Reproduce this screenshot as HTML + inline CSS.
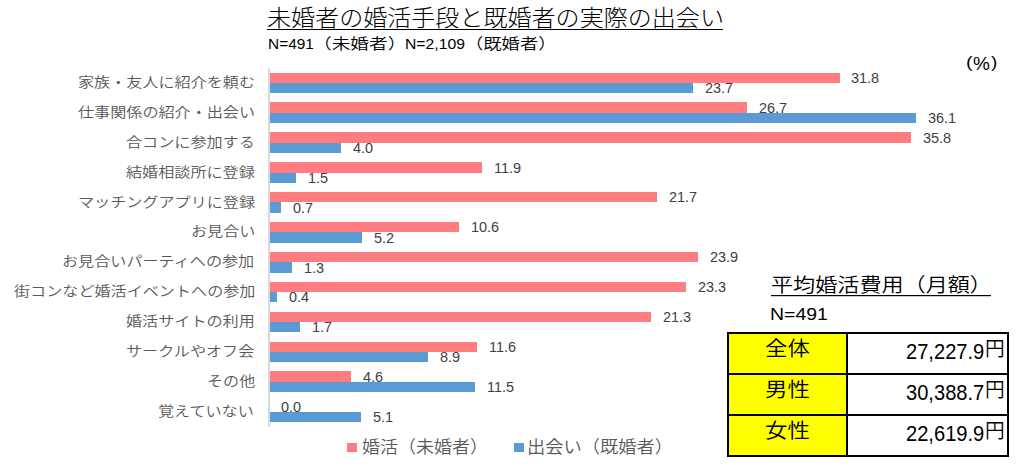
<!DOCTYPE html>
<html lang="ja"><head><meta charset="utf-8"><title>未婚者の婚活手段と既婚者の実際の出会い</title>
<style>
html,body{margin:0;padding:0;background:#fff;}
body{width:1026px;height:469px;position:relative;overflow:hidden;}
.r{position:absolute;}
.t{position:absolute;white-space:nowrap;line-height:1;transform-origin:0 0;}
</style></head><body>
<div class="r" style="left:269.00px;top:73.00px;width:571.00px;height:10.00px;background:#ff7c80"></div>
<div class="r" style="left:269.00px;top:83.00px;width:424.00px;height:10.00px;background:#5b9bd5"></div>
<div class="r" style="left:269.00px;top:102.00px;width:478.00px;height:11.00px;background:#ff7c80"></div>
<div class="r" style="left:269.00px;top:113.00px;width:647.00px;height:9.60px;background:#5b9bd5"></div>
<div class="r" style="left:269.00px;top:132.00px;width:642.00px;height:11.00px;background:#ff7c80"></div>
<div class="r" style="left:269.00px;top:143.00px;width:72.00px;height:9.50px;background:#5b9bd5"></div>
<div class="r" style="left:269.00px;top:162.00px;width:213.00px;height:11.00px;background:#ff7c80"></div>
<div class="r" style="left:269.00px;top:173.00px;width:27.00px;height:9.60px;background:#5b9bd5"></div>
<div class="r" style="left:269.00px;top:192.00px;width:388.00px;height:10.00px;background:#ff7c80"></div>
<div class="r" style="left:269.00px;top:202.00px;width:12.00px;height:10.50px;background:#5b9bd5"></div>
<div class="r" style="left:269.00px;top:222.00px;width:190.00px;height:10.00px;background:#ff7c80"></div>
<div class="r" style="left:269.00px;top:232.00px;width:93.00px;height:10.50px;background:#5b9bd5"></div>
<div class="r" style="left:269.00px;top:252.00px;width:429.00px;height:10.00px;background:#ff7c80"></div>
<div class="r" style="left:269.00px;top:262.00px;width:23.00px;height:10.50px;background:#5b9bd5"></div>
<div class="r" style="left:269.00px;top:282.00px;width:417.00px;height:10.00px;background:#ff7c80"></div>
<div class="r" style="left:269.00px;top:292.00px;width:8.00px;height:10.00px;background:#5b9bd5"></div>
<div class="r" style="left:269.00px;top:312.00px;width:382.00px;height:10.00px;background:#ff7c80"></div>
<div class="r" style="left:269.00px;top:322.00px;width:31.00px;height:10.00px;background:#5b9bd5"></div>
<div class="r" style="left:269.00px;top:342.00px;width:208.00px;height:10.00px;background:#ff7c80"></div>
<div class="r" style="left:269.00px;top:352.00px;width:159.00px;height:10.00px;background:#5b9bd5"></div>
<div class="r" style="left:269.00px;top:371.00px;width:82.00px;height:11.00px;background:#ff7c80"></div>
<div class="r" style="left:269.00px;top:382.00px;width:206.00px;height:10.00px;background:#5b9bd5"></div>
<div class="r" style="left:269.00px;top:412.00px;width:92.00px;height:10.00px;background:#5b9bd5"></div>
<div class="r" style="left:268px;top:68px;width:2px;height:358.5px;background:#d9d9d9"></div>
<div class="r" style="left:267px;top:28.5px;width:456px;height:1.4px;background:#000"></div>
<div class="r" style="left:771px;top:295px;width:220px;height:1px;background:#000"></div>
<div class="r" style="left:771px;top:296px;width:220px;height:1px;background:rgba(0,0,0,0.2)"></div>
<div class="r" style="left:347px;top:443px;width:10px;height:9px;background:#ff7c80"></div>
<div class="r" style="left:514px;top:443px;width:10px;height:9px;background:#5b9bd5"></div>
<div class="r" style="left:729px;top:334px;width:116.5px;height:121px;background:#ffff00"></div>
<div class="r" style="left:727.0px;top:332.0px;width:282.0px;height:2.0px;background:#000"></div>
<div class="r" style="left:727.0px;top:373.0px;width:282.0px;height:2.0px;background:#000"></div>
<div class="r" style="left:727.0px;top:414.0px;width:282.0px;height:2.0px;background:#000"></div>
<div class="r" style="left:727.0px;top:454.5px;width:282.0px;height:2.0px;background:#000"></div>
<div class="r" style="left:727.0px;top:332.0px;width:2.0px;height:124.5px;background:#000"></div>
<div class="r" style="left:845.5px;top:332.0px;width:2.0px;height:124.5px;background:#000"></div>
<div class="r" style="left:1007.0px;top:332.0px;width:2.0px;height:124.5px;background:#000"></div>
<div class="t" id="title" style="left:267.05px;top:8.00px;font-family:'Liberation Sans', 'Noto Sans CJK JP', sans-serif;font-size:22.56px;color:#000;font-weight:300;transform:scale(1.0667,1.0000);">未婚者の婚活手段と既婚者の実際の出会い</div>
<div class="t" id="sub1" style="left:267.67px;top:36.00px;font-family:'Liberation Sans', sans-serif;font-size:15.45px;color:#000;transform:scale(0.9990,1.0000);">N=491</div>
<div class="t" id="sub2" style="left:313.48px;top:36.00px;font-family:'Liberation Sans', 'Noto Sans CJK JP', sans-serif;font-size:15.30px;color:#000;font-weight:350;transform:scale(1.2209,1.0000);">（未婚者）</div>
<div class="t" id="sub3" style="left:405.14px;top:36.00px;font-family:'Liberation Sans', sans-serif;font-size:15.45px;color:#000;transform:scale(1.0183,1.0000);">N=2,109</div>
<div class="t" id="sub4" style="left:464.73px;top:36.00px;font-family:'Liberation Sans', 'Noto Sans CJK JP', sans-serif;font-size:15.30px;color:#000;font-weight:350;transform:scale(1.1963,1.0000);">（既婚者）</div>
<div class="t" id="pct1" style="left:965.57px;top:54.00px;font-family:'Liberation Sans', sans-serif;font-size:17.28px;color:#000;transform:scale(1.1475,1.0000);">(</div>
<div class="t" id="pct2" style="left:973.43px;top:54.00px;font-family:'Liberation Sans', sans-serif;font-size:19.08px;color:#000;transform:scale(0.9944,1.0000);">%</div>
<div class="t" id="pct3" style="left:991.36px;top:54.00px;font-family:'Liberation Sans', sans-serif;font-size:16.02px;color:#000;transform:scale(1.1905,1.0000);">)</div>
<div class="t" id="lab0" style="left:77.92px;top:75.00px;font-family:'Liberation Sans', 'Noto Sans CJK JP', sans-serif;font-size:14.08px;color:#595959;font-weight:350;transform:scale(1.1433,1.0000);">家族・友人に紹介を頼む</div>
<div class="t" id="lab1" style="left:77.92px;top:105.00px;font-family:'Liberation Sans', 'Noto Sans CJK JP', sans-serif;font-size:14.08px;color:#595959;font-weight:350;transform:scale(1.1433,1.0000);">仕事関係の紹介・出会い</div>
<div class="t" id="lab2" style="left:126.22px;top:135.00px;font-family:'Liberation Sans', 'Noto Sans CJK JP', sans-serif;font-size:14.08px;color:#595959;font-weight:350;transform:scale(1.1433,1.0000);">合コンに参加する</div>
<div class="t" id="lab3" style="left:126.22px;top:165.00px;font-family:'Liberation Sans', 'Noto Sans CJK JP', sans-serif;font-size:14.08px;color:#595959;font-weight:350;transform:scale(1.1433,1.0000);">結婚相談所に登録</div>
<div class="t" id="lab4" style="left:77.92px;top:195.00px;font-family:'Liberation Sans', 'Noto Sans CJK JP', sans-serif;font-size:14.08px;color:#595959;font-weight:350;transform:scale(1.1433,1.0000);">マッチングアプリに登録</div>
<div class="t" id="lab5" style="left:190.61px;top:224.00px;font-family:'Liberation Sans', 'Noto Sans CJK JP', sans-serif;font-size:14.08px;color:#595959;font-weight:350;transform:scale(1.1433,1.0000);">お見合い</div>
<div class="t" id="lab6" style="left:61.83px;top:254.00px;font-family:'Liberation Sans', 'Noto Sans CJK JP', sans-serif;font-size:14.08px;color:#595959;font-weight:350;transform:scale(1.1433,1.0000);">お見合いパーティへの参加</div>
<div class="t" id="lab7" style="left:13.53px;top:284.00px;font-family:'Liberation Sans', 'Noto Sans CJK JP', sans-serif;font-size:14.08px;color:#595959;font-weight:350;transform:scale(1.1433,1.0000);">街コンなど婚活イベントへの参加</div>
<div class="t" id="lab8" style="left:126.22px;top:314.00px;font-family:'Liberation Sans', 'Noto Sans CJK JP', sans-serif;font-size:14.08px;color:#595959;font-weight:350;transform:scale(1.1433,1.0000);">婚活サイトの利用</div>
<div class="t" id="lab9" style="left:126.22px;top:344.00px;font-family:'Liberation Sans', 'Noto Sans CJK JP', sans-serif;font-size:14.08px;color:#595959;font-weight:350;transform:scale(1.1433,1.0000);">サークルやオフ会</div>
<div class="t" id="lab10" style="left:206.71px;top:374.00px;font-family:'Liberation Sans', 'Noto Sans CJK JP', sans-serif;font-size:14.08px;color:#595959;font-weight:350;transform:scale(1.1433,1.0000);">その他</div>
<div class="t" id="lab11" style="left:158.41px;top:404.00px;font-family:'Liberation Sans', 'Noto Sans CJK JP', sans-serif;font-size:14.08px;color:#595959;font-weight:350;transform:scale(1.1433,1.0000);">覚えていない</div>
<div class="t" id="v0_0" style="left:851.33px;top:71.00px;font-family:'Liberation Sans', sans-serif;font-size:14.42px;color:#404040;transform:scale(1.0036,1.0000);">31.8</div>
<div class="t" id="v1_0" style="left:705.26px;top:81.00px;font-family:'Liberation Sans', sans-serif;font-size:14.42px;color:#404040;transform:scale(1.0036,1.0000);">23.7</div>
<div class="t" id="v0_1" style="left:759.36px;top:101.00px;font-family:'Liberation Sans', sans-serif;font-size:14.42px;color:#404040;transform:scale(1.0036,1.0000);">26.7</div>
<div class="t" id="v1_1" style="left:928.13px;top:111.00px;font-family:'Liberation Sans', sans-serif;font-size:14.42px;color:#404040;transform:scale(1.0036,1.0000);">36.1</div>
<div class="t" id="v0_2" style="left:923.13px;top:131.00px;font-family:'Liberation Sans', sans-serif;font-size:14.42px;color:#404040;transform:scale(1.0036,1.0000);">35.8</div>
<div class="t" id="v1_2" style="left:353.44px;top:141.00px;font-family:'Liberation Sans', sans-serif;font-size:14.42px;color:#404040;transform:scale(1.0036,1.0000);">4.0</div>
<div class="t" id="v0_3" style="left:493.50px;top:161.00px;font-family:'Liberation Sans', sans-serif;font-size:14.42px;color:#404040;transform:scale(1.0036,1.0000);">11.9</div>
<div class="t" id="v1_3" style="left:308.10px;top:171.00px;font-family:'Liberation Sans', sans-serif;font-size:14.42px;color:#404040;transform:scale(1.0036,1.0000);">1.5</div>
<div class="t" id="v0_4" style="left:669.46px;top:190.00px;font-family:'Liberation Sans', sans-serif;font-size:14.42px;color:#404040;transform:scale(1.0036,1.0000);">21.7</div>
<div class="t" id="v1_4" style="left:293.29px;top:201.00px;font-family:'Liberation Sans', sans-serif;font-size:14.42px;color:#404040;transform:scale(1.0036,1.0000);">0.7</div>
<div class="t" id="v0_5" style="left:470.70px;top:220.00px;font-family:'Liberation Sans', sans-serif;font-size:14.42px;color:#404040;transform:scale(1.0036,1.0000);">10.6</div>
<div class="t" id="v1_5" style="left:373.97px;top:231.00px;font-family:'Liberation Sans', sans-serif;font-size:14.42px;color:#404040;transform:scale(1.0036,1.0000);">5.2</div>
<div class="t" id="v0_6" style="left:710.16px;top:250.00px;font-family:'Liberation Sans', sans-serif;font-size:14.42px;color:#404040;transform:scale(1.0036,1.0000);">23.9</div>
<div class="t" id="v1_6" style="left:303.50px;top:261.00px;font-family:'Liberation Sans', sans-serif;font-size:14.42px;color:#404040;transform:scale(1.0036,1.0000);">1.3</div>
<div class="t" id="v0_7" style="left:698.16px;top:280.00px;font-family:'Liberation Sans', sans-serif;font-size:14.42px;color:#404040;transform:scale(1.0036,1.0000);">23.3</div>
<div class="t" id="v1_7" style="left:289.29px;top:290.00px;font-family:'Liberation Sans', sans-serif;font-size:14.42px;color:#404040;transform:scale(1.0036,1.0000);">0.4</div>
<div class="t" id="v0_8" style="left:663.16px;top:310.00px;font-family:'Liberation Sans', sans-serif;font-size:14.42px;color:#404040;transform:scale(1.0036,1.0000);">21.3</div>
<div class="t" id="v1_8" style="left:311.90px;top:320.00px;font-family:'Liberation Sans', sans-serif;font-size:14.42px;color:#404040;transform:scale(1.0036,1.0000);">1.7</div>
<div class="t" id="v0_9" style="left:488.50px;top:340.00px;font-family:'Liberation Sans', sans-serif;font-size:14.42px;color:#404040;transform:scale(1.0036,1.0000);">11.6</div>
<div class="t" id="v1_9" style="left:440.42px;top:350.00px;font-family:'Liberation Sans', sans-serif;font-size:14.42px;color:#404040;transform:scale(1.0036,1.0000);">8.9</div>
<div class="t" id="v0_10" style="left:363.44px;top:370.00px;font-family:'Liberation Sans', sans-serif;font-size:14.42px;color:#404040;transform:scale(1.0036,1.0000);">4.6</div>
<div class="t" id="v1_10" style="left:486.50px;top:380.00px;font-family:'Liberation Sans', sans-serif;font-size:14.42px;color:#404040;transform:scale(1.0036,1.0000);">11.5</div>
<div class="t" id="v0_11" style="left:281.39px;top:400.00px;font-family:'Liberation Sans', sans-serif;font-size:14.42px;color:#404040;transform:scale(1.0036,1.0000);">0.0</div>
<div class="t" id="v1_11" style="left:372.97px;top:410.00px;font-family:'Liberation Sans', sans-serif;font-size:14.42px;color:#404040;transform:scale(1.0036,1.0000);">5.1</div>
<div class="t" id="leg1" style="left:362.06px;top:439.00px;font-family:'Liberation Sans', 'Noto Sans CJK JP', sans-serif;font-size:17.46px;color:#595959;font-weight:350;transform:scale(1.0318,1.0000);">婚活（未婚者）</div>
<div class="t" id="leg2" style="left:526.80px;top:439.00px;font-family:'Liberation Sans', 'Noto Sans CJK JP', sans-serif;font-size:17.46px;color:#595959;font-weight:350;transform:scale(1.0466,1.0000);">出会い（既婚者）</div>
<div class="t" id="ttl2" style="left:770.70px;top:276.00px;font-family:'Liberation Sans', 'Noto Sans CJK JP', sans-serif;font-size:19.58px;color:#000;font-weight:350;transform:scale(1.1286,1.0000);">平均婚活費用（月額）</div>
<div class="t" id="n491" style="left:770.45px;top:306.00px;font-family:'Liberation Sans', sans-serif;font-size:17.34px;color:#000;transform:scale(1.1223,1.0000);">N=491</div>
<div class="t" id="tl0" style="left:764.94px;top:339.00px;font-family:'Liberation Sans', 'Noto Sans CJK JP', sans-serif;font-size:20.68px;color:#000;font-weight:350;transform:scale(1.0835,1.0000);">全体</div>
<div class="t" id="tn0" style="left:905.60px;top:342.00px;font-family:'Liberation Sans', sans-serif;font-size:21.40px;color:#000;transform:scale(0.9400,1.0000);">27,227.9</div>
<div class="t" id="ty0" style="left:984.66px;top:339.00px;font-family:'Liberation Sans', 'Noto Sans CJK JP', sans-serif;font-size:20.68px;color:#000;font-weight:350;transform:scale(0.9539,1.0000);">円</div>
<div class="t" id="tl1" style="left:764.94px;top:380.00px;font-family:'Liberation Sans', 'Noto Sans CJK JP', sans-serif;font-size:20.68px;color:#000;font-weight:350;transform:scale(1.0835,1.0000);">男性</div>
<div class="t" id="tn1" style="left:905.60px;top:383.00px;font-family:'Liberation Sans', sans-serif;font-size:21.40px;color:#000;transform:scale(0.9400,1.0000);">30,388.7</div>
<div class="t" id="ty1" style="left:984.66px;top:380.00px;font-family:'Liberation Sans', 'Noto Sans CJK JP', sans-serif;font-size:20.68px;color:#000;font-weight:350;transform:scale(0.9539,1.0000);">円</div>
<div class="t" id="tl2" style="left:764.94px;top:421.00px;font-family:'Liberation Sans', 'Noto Sans CJK JP', sans-serif;font-size:20.68px;color:#000;font-weight:350;transform:scale(1.0835,1.0000);">女性</div>
<div class="t" id="tn2" style="left:905.60px;top:424.00px;font-family:'Liberation Sans', sans-serif;font-size:21.40px;color:#000;transform:scale(0.9400,1.0000);">22,619.9</div>
<div class="t" id="ty2" style="left:984.66px;top:421.00px;font-family:'Liberation Sans', 'Noto Sans CJK JP', sans-serif;font-size:20.68px;color:#000;font-weight:350;transform:scale(0.9539,1.0000);">円</div>
</body></html>
